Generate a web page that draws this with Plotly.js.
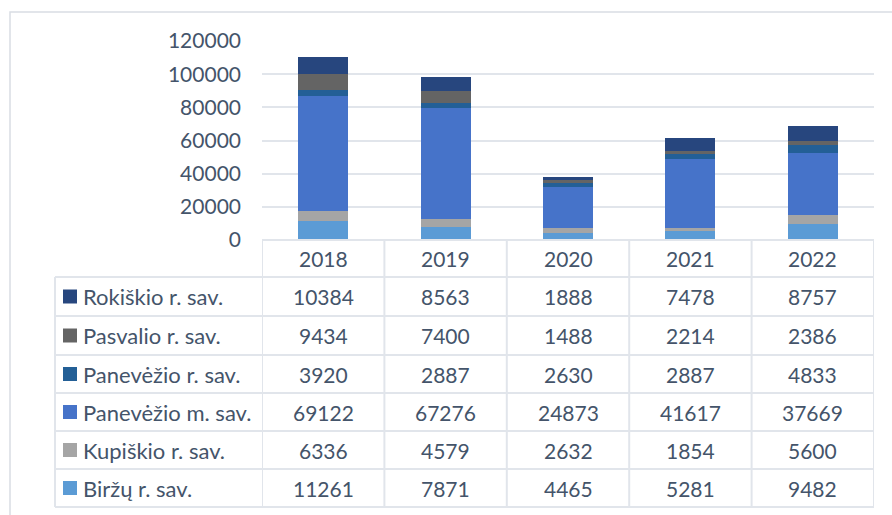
<!DOCTYPE html>
<html>
<head>
<meta charset="utf-8">
<script src="https://cdn.plot.ly/plotly-3.0.1.min.js"></script>
<style>html,body{margin:0;padding:0;background:#fff;}#chart{width:892px;height:515px;}</style>
</head>
<body>
<div id="chart"></div>
<script>
// ---- data ----
const years = ['2018', '2019', '2020', '2021', '2022'];
const seriesNames = ['Biržų r. sav.', 'Kupiškio r. sav.', 'Panevėžio m. sav.', 'Panevėžio r. sav.', 'Pasvalio r. sav.', 'Rokiškio r. sav.'];
const birzu = [11261, 7871, 4465, 5281, 9482];
const kupiskio = [6336, 4579, 2632, 1854, 5600];
const panevezioM = [69122, 67276, 24873, 41617, 37669];
const panevezioR = [3920, 2887, 2630, 2887, 4833];
const pasvalio = [9434, 7400, 1488, 2214, 2386];
const rokiskio = [10384, 8563, 1888, 7478, 8757];
const yTicks = [0, 20000, 40000, 60000, 80000, 100000, 120000];

// ---- style ----
const colors = ['#5b9bd5', '#a5a5a5', '#4673c9', '#235f96', '#646464', '#27467e'];
const values = [birzu, kupiskio, panevezioM, panevezioR, pasvalio, rokiskio];
const textColor = '#44546a';
const gridColor = '#e1e5eb';
const font = 'Lato, "Open Sans", sans-serif';
const numSize = 21, labelSize = 22;

const W = 892, H = 515;
const plotL = 262, plotR = 874, plotT = 41, plotB = 240;
const plotW = plotR - plotL, plotH = plotB - plotT;
const py = y => (plotB - y) / plotH;      // pixel y -> paper y
const px = x => (x - plotL) / plotW;      // pixel x -> paper x

const traces = seriesNames.map((n, i) => ({
  type: 'bar', name: n, x: years, y: values[i],
  marker: {color: colors[i], line: {width: 0}},
  hoverinfo: 'x+y+name'
}));

// table geometry (pixels)
const headerTop = 240, headerBot = 277;
const rowEdges = [277, 316, 355, 393, 431, 469, 507];
const tableLeft = 55;

const shapes = [];
const annotations = [];

// outer chart frame
shapes.push({type: 'rect', xref: 'paper', yref: 'paper', x0: px(10), x1: px(905), y0: py(12), y1: py(530),
  line: {color: '#d9dde4', width: 1.5}, fillcolor: 'rgba(0,0,0,0)', layer: 'below'});

// horizontal table lines
shapes.push({type: 'line', xref: 'paper', yref: 'paper', x0: 0, x1: 1, y0: py(headerTop), y1: py(headerTop), line: {color: gridColor, width: 2}});
rowEdges.forEach(y => shapes.push({type: 'line', xref: 'paper', yref: 'paper', x0: px(tableLeft), x1: 1, y0: py(y), y1: py(y), line: {color: gridColor, width: 2}}));
// vertical table lines at category boundaries
for (let k = 0; k <= years.length; k++) {
  shapes.push({type: 'line', xref: 'x', yref: 'paper', x0: k - 0.5, x1: k - 0.5, y0: py(headerTop), y1: py(rowEdges[rowEdges.length - 1]), line: {color: gridColor, width: 2}});
}
shapes.push({type: 'line', xref: 'paper', yref: 'paper', x0: px(tableLeft), x1: px(tableLeft), y0: py(headerBot), y1: py(rowEdges[rowEdges.length - 1]), line: {color: gridColor, width: 2}});

// header years (x as category index on the x axis)
years.forEach((yr, j) => annotations.push({xref: 'x', yref: 'paper', x: j, y: py((headerTop + headerBot) / 2),
  text: yr, showarrow: false, font: {family: font, size: numSize, color: textColor}, xanchor: 'center', yanchor: 'middle'}));

// rows: top row is last series (Rokiškio)
for (let r = 0; r < seriesNames.length; r++) {
  const si = seriesNames.length - 1 - r;
  const yc = (rowEdges[r] + rowEdges[r + 1]) / 2;
  // legend key
  shapes.push({type: 'rect', xref: 'paper', yref: 'paper', x0: px(63), x1: px(77), y0: py(yc - 7), y1: py(yc + 7),
    fillcolor: colors[si], line: {width: 0}});
  annotations.push({xref: 'paper', yref: 'paper', x: px(81), y: py(yc), text: seriesNames[si], showarrow: false,
    xanchor: 'left', yanchor: 'middle', font: {family: font, size: labelSize, color: textColor}});
  years.forEach((yr, j) => annotations.push({xref: 'x', yref: 'paper', x: j, y: py(yc),
    text: String(values[si][j]), showarrow: false, xanchor: 'center', yanchor: 'middle',
    font: {family: font, size: numSize, color: textColor}}));
}

const layout = {
  width: W, height: H,
  margin: {l: plotL, r: W - plotR, t: plotT, b: H - plotB, pad: 0},
  paper_bgcolor: '#ffffff', plot_bgcolor: '#ffffff',
  barmode: 'stack', bargap: 0.59,
  showlegend: false,
  xaxis: {type: 'category', range: [-0.5, 4.5], showticklabels: false, showgrid: false, zeroline: false, showline: false, ticks: '', fixedrange: true},
  yaxis: {range: [0, 120000], tickvals: yTicks, ticktext: yTicks.map(String), showgrid: true, gridcolor: gridColor, gridwidth: 2,
    zeroline: false, showline: false, ticks: '', ticklabelstandoff: 20,
    tickfont: {family: font, size: numSize, color: textColor}, fixedrange: true},
  shapes: shapes,
  annotations: annotations
};

Plotly.newPlot('chart', traces, layout, {displayModeBar: false, staticPlot: true});
</script>
</body>
</html>
